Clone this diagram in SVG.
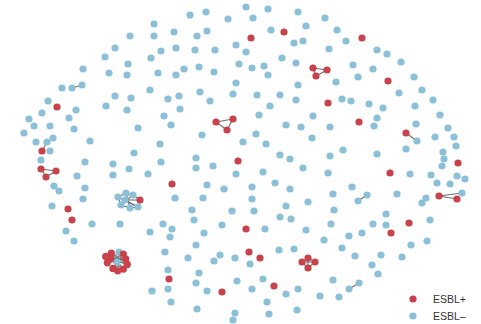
<svg xmlns="http://www.w3.org/2000/svg" width="481" height="324" viewBox="0 0 481 324">
<style>
.b{fill:#8cc0d9}
.r{fill:#c9424b}
circle{r:3.6px}
.e line{stroke:#6f6f6f;stroke-width:1.1}
text{font-family:"Liberation Sans",Arial,sans-serif;font-size:10.5px;fill:#333}
</style>
<rect width="481" height="324" fill="#fff"/>
<g id="connectors" class="e">
<line x1="72" y1="88" x2="82" y2="85"/>
<line x1="313" y1="68" x2="327" y2="70"/><line x1="327" y1="70" x2="316" y2="76"/><line x1="316" y1="76" x2="313" y2="68"/>
<line x1="42" y1="151" x2="47" y2="142"/>
<line x1="41" y1="169" x2="56" y2="171"/><line x1="56" y1="171" x2="46" y2="177"/><line x1="46" y1="177" x2="41" y2="169"/>
<line x1="216" y1="122" x2="233" y2="119"/><line x1="233" y1="119" x2="227" y2="130"/><line x1="227" y1="130" x2="216" y2="122"/>
<line x1="406" y1="133" x2="417" y2="141"/>
<line x1="358" y1="201" x2="367" y2="195"/>
<line x1="439" y1="196" x2="457" y2="199"/><line x1="439" y1="196" x2="462" y2="193"/>
<line x1="349" y1="289" x2="359" y2="283"/>
<line x1="118" y1="197" x2="126" y2="193"/><line x1="126" y1="193" x2="133" y2="195"/><line x1="133" y1="195" x2="140" y2="200"/><line x1="140" y1="200" x2="138" y2="207"/><line x1="138" y1="207" x2="130" y2="208"/><line x1="130" y1="208" x2="121" y2="205"/><line x1="121" y1="205" x2="118" y2="197"/><line x1="125" y1="200" x2="140" y2="200"/><line x1="125" y1="200" x2="138" y2="207"/><line x1="118" y1="197" x2="138" y2="207"/><line x1="126" y1="193" x2="130" y2="208"/><line x1="133" y1="195" x2="121" y2="205"/>
<line x1="302" y1="262" x2="315" y2="262"/><line x1="308" y1="258" x2="308" y2="268"/><line x1="302" y1="262" x2="308" y2="258"/><line x1="308" y1="258" x2="315" y2="262"/><line x1="315" y1="262" x2="308" y2="268"/><line x1="308" y1="268" x2="302" y2="262"/>
<line x1="105.7" y1="256.4" x2="127.3" y2="264.4"/><line x1="111.3" y1="253.2" x2="123.3" y2="269.2"/><line x1="119" y1="252" x2="117.7" y2="270.8"/><line x1="123.3" y1="254" x2="112.9" y2="268.4"/><line x1="125.7" y1="258.8" x2="107.3" y2="262.8"/><line x1="105.7" y1="256.4" x2="123.3" y2="254"/><line x1="111.3" y1="253.2" x2="127.3" y2="264.4"/><line x1="110.5" y1="258.8" x2="125.7" y2="258.8"/><line x1="112.9" y1="268.4" x2="123.3" y2="254"/><line x1="117.7" y1="270.8" x2="111.3" y2="253.2"/><line x1="123.3" y1="269.2" x2="105.7" y2="256.4"/><line x1="110.5" y1="258.8" x2="127.3" y2="264.4"/><line x1="107.3" y1="262.8" x2="123.3" y2="254"/>
</g>
<g id="nodes">
<g id="n1"><circle class="b" cx="154" cy="24"/></g>
<g id="n2"><circle class="b" cx="130" cy="36"/></g>
<g id="n3"><circle class="b" cx="154" cy="36"/></g>
<g id="n4"><circle class="b" cx="115" cy="48"/></g>
<g id="n5"><circle class="b" cx="105" cy="57"/></g>
<g id="n6"><circle class="b" cx="151" cy="58"/></g>
<g id="n7"><circle class="b" cx="128" cy="64"/></g>
<g id="n8"><circle class="b" cx="83" cy="69"/></g>
<g id="n9"><circle class="b" cx="109" cy="73"/></g>
<g id="n10"><circle class="b" cx="127" cy="75"/></g>
<g id="n11"><circle class="b" cx="158" cy="73"/></g>
<g id="n12"><circle class="b" cx="62" cy="88"/></g>
<g id="n13"><circle class="b" cx="72" cy="88"/></g>
<g id="n14"><circle class="b" cx="82" cy="85"/></g>
<g id="n15"><circle class="b" cx="150" cy="90"/></g>
<g id="n16"><circle class="b" cx="115" cy="96"/></g>
<g id="n17"><circle class="b" cx="131" cy="98"/></g>
<g id="n18"><circle class="b" cx="48" cy="101"/></g>
<g id="n19"><circle class="b" cx="106" cy="106"/></g>
<g id="n20"><circle class="b" cx="76" cy="110"/></g>
<g id="n21"><circle class="b" cx="127" cy="110"/></g>
<g id="n22"><circle class="r" cx="57" cy="107"/></g>
<g id="n23"><circle class="b" cx="246" cy="7"/></g>
<g id="n24"><circle class="b" cx="268" cy="9"/></g>
<g id="n25"><circle class="b" cx="190" cy="15"/></g>
<g id="n26"><circle class="b" cx="206" cy="12"/></g>
<g id="n27"><circle class="b" cx="228" cy="19"/></g>
<g id="n28"><circle class="b" cx="253" cy="18"/></g>
<g id="n29"><circle class="b" cx="298" cy="12"/></g>
<g id="n30"><circle class="b" cx="306" cy="26"/></g>
<g id="n31"><circle class="b" cx="174" cy="32"/></g>
<g id="n32"><circle class="b" cx="197" cy="36"/></g>
<g id="n33"><circle class="b" cx="207" cy="31"/></g>
<g id="n34"><circle class="b" cx="271" cy="30"/></g>
<g id="n35"><circle class="b" cx="294" cy="43"/></g>
<g id="n36"><circle class="b" cx="303" cy="41"/></g>
<g id="n37"><circle class="b" cx="236" cy="45"/></g>
<g id="n38"><circle class="b" cx="246" cy="52"/></g>
<g id="n39"><circle class="b" cx="161" cy="51"/></g>
<g id="n40"><circle class="b" cx="176" cy="48"/></g>
<g id="n41"><circle class="b" cx="195" cy="50"/></g>
<g id="n42"><circle class="b" cx="215" cy="50"/></g>
<g id="n43"><circle class="b" cx="282" cy="58"/></g>
<g id="n44"><circle class="b" cx="296" cy="63"/></g>
<g id="n45"><circle class="b" cx="239" cy="64"/></g>
<g id="n46"><circle class="b" cx="252" cy="68"/></g>
<g id="n47"><circle class="b" cx="264" cy="66"/></g>
<g id="n48"><circle class="b" cx="268" cy="75"/></g>
<g id="n49"><circle class="b" cx="184" cy="69"/></g>
<g id="n50"><circle class="b" cx="199" cy="67"/></g>
<g id="n51"><circle class="b" cx="214" cy="72"/></g>
<g id="n52"><circle class="b" cx="176" cy="75"/></g>
<g id="n53"><circle class="b" cx="236" cy="83"/></g>
<g id="n54"><circle class="b" cx="298" cy="85"/></g>
<g id="n55"><circle class="b" cx="200" cy="92"/></g>
<g id="n56"><circle class="b" cx="233" cy="94"/></g>
<g id="n57"><circle class="b" cx="257" cy="95"/></g>
<g id="n58"><circle class="b" cx="280" cy="95"/></g>
<g id="n59"><circle class="b" cx="168" cy="99"/></g>
<g id="n60"><circle class="b" cx="179" cy="96"/></g>
<g id="n61"><circle class="b" cx="210" cy="101"/></g>
<g id="n62"><circle class="b" cx="296" cy="100"/></g>
<g id="n63"><circle class="b" cx="270" cy="106"/></g>
<g id="n64"><circle class="b" cx="180" cy="109"/></g>
<g id="n65"><circle class="r" cx="251" cy="38"/></g>
<g id="n66"><circle class="r" cx="284" cy="32"/></g>
<g id="n67"><circle class="r" cx="313" cy="68"/></g>
<g id="n68"><circle class="r" cx="316" cy="76"/></g>
<g id="n69"><circle class="b" cx="325" cy="18"/></g>
<g id="n70"><circle class="b" cx="337" cy="30"/></g>
<g id="n71"><circle class="b" cx="346" cy="41"/></g>
<g id="n72"><circle class="b" cx="329" cy="49"/></g>
<g id="n73"><circle class="b" cx="377" cy="50"/></g>
<g id="n74"><circle class="b" cx="387" cy="54"/></g>
<g id="n75"><circle class="b" cx="401" cy="62"/></g>
<g id="n76"><circle class="b" cx="353" cy="65"/></g>
<g id="n77"><circle class="b" cx="373" cy="69"/></g>
<g id="n78"><circle class="b" cx="336" cy="82"/></g>
<g id="n79"><circle class="b" cx="358" cy="77"/></g>
<g id="n80"><circle class="b" cx="414" cy="77"/></g>
<g id="n81"><circle class="b" cx="422" cy="90"/></g>
<g id="n82"><circle class="b" cx="399" cy="93"/></g>
<g id="n83"><circle class="b" cx="433" cy="100"/></g>
<g id="n84"><circle class="b" cx="342" cy="99"/></g>
<g id="n85"><circle class="b" cx="351" cy="101"/></g>
<g id="n86"><circle class="b" cx="369" cy="104"/></g>
<g id="n87"><circle class="b" cx="383" cy="108"/></g>
<g id="n88"><circle class="b" cx="415" cy="106"/></g>
<g id="n89"><circle class="r" cx="362" cy="38"/></g>
<g id="n90"><circle class="r" cx="327" cy="70"/></g>
<g id="n91"><circle class="r" cx="388" cy="81"/></g>
<g id="n92"><circle class="r" cx="328" cy="103"/></g>
<g id="n93"><circle class="b" cx="42" cy="113"/></g>
<g id="n94"><circle class="b" cx="29" cy="119"/></g>
<g id="n95"><circle class="b" cx="34" cy="126"/></g>
<g id="n96"><circle class="b" cx="50" cy="126"/></g>
<g id="n97"><circle class="b" cx="69" cy="118"/></g>
<g id="n98"><circle class="b" cx="74" cy="129"/></g>
<g id="n99"><circle class="b" cx="24" cy="133"/></g>
<g id="n100"><circle class="b" cx="36" cy="142"/></g>
<g id="n101"><circle class="b" cx="47" cy="142"/></g>
<g id="n102"><circle class="b" cx="53" cy="138"/></g>
<g id="n103"><circle class="b" cx="90" cy="141"/></g>
<g id="n104"><circle class="b" cx="138" cy="128"/></g>
<g id="n105"><circle class="b" cx="50" cy="151"/></g>
<g id="n106"><circle class="b" cx="41" cy="160"/></g>
<g id="n107"><circle class="b" cx="134" cy="153"/></g>
<g id="n108"><circle class="b" cx="160" cy="144"/></g>
<g id="n109"><circle class="b" cx="85" cy="162"/></g>
<g id="n110"><circle class="b" cx="113" cy="164"/></g>
<g id="n111"><circle class="b" cx="77" cy="176"/></g>
<g id="n112"><circle class="b" cx="113" cy="175"/></g>
<g id="n113"><circle class="b" cx="129" cy="169"/></g>
<g id="n114"><circle class="b" cx="148" cy="174"/></g>
<g id="n115"><circle class="b" cx="161" cy="162"/></g>
<g id="n116"><circle class="b" cx="54" cy="186"/></g>
<g id="n117"><circle class="b" cx="59" cy="191"/></g>
<g id="n118"><circle class="b" cx="85" cy="188"/></g>
<g id="n119"><circle class="b" cx="83" cy="199"/></g>
<g id="n120"><circle class="b" cx="52" cy="206"/></g>
<g id="n121"><circle class="r" cx="42" cy="151"/></g>
<g id="n122"><circle class="r" cx="41" cy="169"/></g>
<g id="n123"><circle class="r" cx="56" cy="171"/></g>
<g id="n124"><circle class="r" cx="46" cy="177"/></g>
<g id="n125"><circle class="r" cx="68" cy="209"/></g>
<g id="n126"><circle class="r" cx="72" cy="220"/></g>
<g id="n127"><circle class="b" cx="164" cy="116"/></g>
<g id="n128"><circle class="b" cx="171" cy="125"/></g>
<g id="n129"><circle class="b" cx="202" cy="135"/></g>
<g id="n130"><circle class="b" cx="259" cy="115"/></g>
<g id="n131"><circle class="b" cx="256" cy="134"/></g>
<g id="n132"><circle class="b" cx="243" cy="142"/></g>
<g id="n133"><circle class="b" cx="266" cy="144"/></g>
<g id="n134"><circle class="b" cx="286" cy="125"/></g>
<g id="n135"><circle class="b" cx="301" cy="127"/></g>
<g id="n136"><circle class="b" cx="313" cy="116"/></g>
<g id="n137"><circle class="b" cx="312" cy="138"/></g>
<g id="n138"><circle class="b" cx="196" cy="158"/></g>
<g id="n139"><circle class="b" cx="196" cy="168"/></g>
<g id="n140"><circle class="b" cx="213" cy="166"/></g>
<g id="n141"><circle class="b" cx="236" cy="174"/></g>
<g id="n142"><circle class="b" cx="263" cy="172"/></g>
<g id="n143"><circle class="b" cx="280" cy="155"/></g>
<g id="n144"><circle class="b" cx="290" cy="159"/></g>
<g id="n145"><circle class="b" cx="303" cy="168"/></g>
<g id="n146"><circle class="b" cx="207" cy="185"/></g>
<g id="n147"><circle class="b" cx="224" cy="189"/></g>
<g id="n148"><circle class="b" cx="252" cy="187"/></g>
<g id="n149"><circle class="b" cx="275" cy="183"/></g>
<g id="n150"><circle class="b" cx="290" cy="189"/></g>
<g id="n151"><circle class="b" cx="175" cy="198"/></g>
<g id="n152"><circle class="b" cx="203" cy="198"/></g>
<g id="n153"><circle class="b" cx="252" cy="199"/></g>
<g id="n154"><circle class="b" cx="308" cy="202"/></g>
<g id="n155"><circle class="b" cx="192" cy="210"/></g>
<g id="n156"><circle class="b" cx="232" cy="211"/></g>
<g id="n157"><circle class="b" cx="254" cy="211"/></g>
<g id="n158"><circle class="b" cx="286" cy="206"/></g>
<g id="n159"><circle class="b" cx="280" cy="217"/></g>
<g id="n160"><circle class="b" cx="291" cy="219"/></g>
<g id="n161"><circle class="b" cx="194" cy="220"/></g>
<g id="n162"><circle class="r" cx="216" cy="122"/></g>
<g id="n163"><circle class="r" cx="233" cy="119"/></g>
<g id="n164"><circle class="r" cx="227" cy="130"/></g>
<g id="n165"><circle class="r" cx="238" cy="161"/></g>
<g id="n166"><circle class="r" cx="172" cy="184"/></g>
<g id="n167"><circle class="b" cx="330" cy="127"/></g>
<g id="n168"><circle class="b" cx="377" cy="118"/></g>
<g id="n169"><circle class="b" cx="374" cy="126"/></g>
<g id="n170"><circle class="b" cx="416" cy="124"/></g>
<g id="n171"><circle class="b" cx="440" cy="115"/></g>
<g id="n172"><circle class="b" cx="417" cy="141"/></g>
<g id="n173"><circle class="b" cx="435" cy="137"/></g>
<g id="n174"><circle class="b" cx="448" cy="128"/></g>
<g id="n175"><circle class="b" cx="454" cy="137"/></g>
<g id="n176"><circle class="b" cx="456" cy="146"/></g>
<g id="n177"><circle class="b" cx="443" cy="152"/></g>
<g id="n178"><circle class="b" cx="444" cy="159"/></g>
<g id="n179"><circle class="b" cx="442" cy="166"/></g>
<g id="n180"><circle class="b" cx="330" cy="156"/></g>
<g id="n181"><circle class="b" cx="343" cy="150"/></g>
<g id="n182"><circle class="b" cx="377" cy="154"/></g>
<g id="n183"><circle class="b" cx="406" cy="149"/></g>
<g id="n184"><circle class="b" cx="328" cy="173"/></g>
<g id="n185"><circle class="b" cx="410" cy="174"/></g>
<g id="n186"><circle class="b" cx="431" cy="175"/></g>
<g id="n187"><circle class="b" cx="437" cy="183"/></g>
<g id="n188"><circle class="b" cx="450" cy="184"/></g>
<g id="n189"><circle class="b" cx="457" cy="176"/></g>
<g id="n190"><circle class="b" cx="465" cy="179"/></g>
<g id="n191"><circle class="b" cx="352" cy="187"/></g>
<g id="n192"><circle class="b" cx="333" cy="194"/></g>
<g id="n193"><circle class="b" cx="358" cy="201"/></g>
<g id="n194"><circle class="b" cx="367" cy="195"/></g>
<g id="n195"><circle class="b" cx="397" cy="194"/></g>
<g id="n196"><circle class="b" cx="462" cy="193"/></g>
<g id="n197"><circle class="b" cx="426" cy="198"/></g>
<g id="n198"><circle class="b" cx="422" cy="203"/></g>
<g id="n199"><circle class="b" cx="334" cy="210"/></g>
<g id="n200"><circle class="b" cx="386" cy="214"/></g>
<g id="n201"><circle class="b" cx="430" cy="220"/></g>
<g id="n202"><circle class="r" cx="359" cy="122"/></g>
<g id="n203"><circle class="r" cx="406" cy="133"/></g>
<g id="n204"><circle class="r" cx="458" cy="163"/></g>
<g id="n205"><circle class="r" cx="390" cy="173"/></g>
<g id="n206"><circle class="r" cx="439" cy="196"/></g>
<g id="n207"><circle class="r" cx="457" cy="199"/></g>
<g id="n208"><circle class="b" cx="92" cy="224"/></g>
<g id="n209"><circle class="b" cx="120" cy="224"/></g>
<g id="n210"><circle class="b" cx="66" cy="231"/></g>
<g id="n211"><circle class="b" cx="74" cy="241"/></g>
<g id="n212"><circle class="b" cx="150" cy="232"/></g>
<g id="n213"><circle class="b" cx="152" cy="291"/></g>
<g id="n214"><circle class="b" cx="163" cy="224"/></g>
<g id="n215"><circle class="b" cx="172" cy="229"/></g>
<g id="n216"><circle class="b" cx="222" cy="225"/></g>
<g id="n217"><circle class="b" cx="170" cy="237"/></g>
<g id="n218"><circle class="b" cx="204" cy="233"/></g>
<g id="n219"><circle class="b" cx="265" cy="229"/></g>
<g id="n220"><circle class="b" cx="306" cy="230"/></g>
<g id="n221"><circle class="b" cx="196" cy="245"/></g>
<g id="n222"><circle class="b" cx="165" cy="252"/></g>
<g id="n223"><circle class="b" cx="188" cy="258"/></g>
<g id="n224"><circle class="b" cx="220" cy="255"/></g>
<g id="n225"><circle class="b" cx="214" cy="261"/></g>
<g id="n226"><circle class="b" cx="235" cy="258"/></g>
<g id="n227"><circle class="b" cx="250" cy="264"/></g>
<g id="n228"><circle class="b" cx="279" cy="250"/></g>
<g id="n229"><circle class="b" cx="294" cy="249"/></g>
<g id="n230"><circle class="b" cx="168" cy="270"/></g>
<g id="n231"><circle class="b" cx="199" cy="273"/></g>
<g id="n232"><circle class="b" cx="196" cy="283"/></g>
<g id="n233"><circle class="b" cx="237" cy="281"/></g>
<g id="n234"><circle class="b" cx="263" cy="279"/></g>
<g id="n235"><circle class="b" cx="168" cy="289"/></g>
<g id="n236"><circle class="b" cx="207" cy="291"/></g>
<g id="n237"><circle class="b" cx="252" cy="289"/></g>
<g id="n238"><circle class="b" cx="286" cy="294"/></g>
<g id="n239"><circle class="b" cx="298" cy="289"/></g>
<g id="n240"><circle class="b" cx="171" cy="302"/></g>
<g id="n241"><circle class="b" cx="267" cy="302"/></g>
<g id="n242"><circle class="b" cx="197" cy="309"/></g>
<g id="n243"><circle class="b" cx="235" cy="313"/></g>
<g id="n244"><circle class="b" cx="233" cy="320"/></g>
<g id="n245"><circle class="b" cx="269" cy="314"/></g>
<g id="n246"><circle class="b" cx="297" cy="310"/></g>
<g id="n247"><circle class="b" cx="320" cy="296"/></g>
<g id="n248"><circle class="r" cx="246" cy="229"/></g>
<g id="n249"><circle class="r" cx="249" cy="252"/></g>
<g id="n250"><circle class="r" cx="260" cy="258"/></g>
<g id="n251"><circle class="r" cx="169" cy="279"/></g>
<g id="n252"><circle class="r" cx="222" cy="292"/></g>
<g id="n253"><circle class="r" cx="274" cy="286"/></g>
<g id="n254"><circle class="b" cx="331" cy="224"/></g>
<g id="n255"><circle class="b" cx="373" cy="224"/></g>
<g id="n256"><circle class="b" cx="386" cy="225"/></g>
<g id="n257"><circle class="b" cx="324" cy="240"/></g>
<g id="n258"><circle class="b" cx="349" cy="236"/></g>
<g id="n259"><circle class="b" cx="362" cy="233"/></g>
<g id="n260"><circle class="b" cx="342" cy="248"/></g>
<g id="n261"><circle class="b" cx="355" cy="256"/></g>
<g id="n262"><circle class="b" cx="381" cy="255"/></g>
<g id="n263"><circle class="b" cx="402" cy="257"/></g>
<g id="n264"><circle class="b" cx="411" cy="245"/></g>
<g id="n265"><circle class="b" cx="427" cy="241"/></g>
<g id="n266"><circle class="b" cx="372" cy="265"/></g>
<g id="n267"><circle class="b" cx="378" cy="274"/></g>
<g id="n268"><circle class="b" cx="333" cy="280"/></g>
<g id="n269"><circle class="b" cx="349" cy="289"/></g>
<g id="n270"><circle class="b" cx="359" cy="283"/></g>
<g id="n271"><circle class="b" cx="339" cy="297"/></g>
<g id="n272"><circle class="r" cx="409" cy="223"/></g>
<g id="n273"><circle class="r" cx="391" cy="233"/></g>
<g id="n274"><circle class="b" cx="118" cy="197"/></g>
<g id="n275"><circle class="b" cx="126" cy="193"/></g>
<g id="n276"><circle class="b" cx="133" cy="195"/></g>
<g id="n277"><circle class="r" cx="140" cy="200"/></g>
<g id="n278"><circle class="b" cx="138" cy="207"/></g>
<g id="n279"><circle class="b" cx="130" cy="208"/></g>
<g id="n280"><circle class="b" cx="121" cy="205"/></g>
<g id="n281"><circle class="b" cx="125" cy="200"/></g>
<g id="n282"><circle class="r" cx="302" cy="262"/></g>
<g id="n283"><circle class="r" cx="308" cy="258"/></g>
<g id="n284"><circle class="r" cx="315" cy="262"/></g>
<g id="n285"><circle class="r" cx="308" cy="268"/></g>
<g id="n297"><circle class="b" cx="117" cy="262"/></g>
<g id="n286"><circle class="b" cx="119" cy="252"/></g>
<g id="n287"><circle class="r" cx="105.7" cy="256.4"/></g>
<g id="n288"><circle class="r" cx="111.3" cy="253.2"/></g>
<g id="n289"><circle class="r" cx="123.3" cy="254"/></g>
<g id="n290"><circle class="r" cx="125.7" cy="258.8"/></g>
<g id="n291"><circle class="r" cx="127.3" cy="264.4"/></g>
<g id="n292"><circle class="r" cx="123.3" cy="269.2"/></g>
<g id="n293"><circle class="r" cx="117.7" cy="270.8"/></g>
<g id="n294"><circle class="r" cx="112.9" cy="268.4"/></g>
<g id="n295"><circle class="r" cx="107.3" cy="262.8"/></g>
<g id="n296"><circle class="r" cx="110.5" cy="258.8"/></g>
</g>
<g id="legend">
<circle class="r" cx="413" cy="299"/>
<circle class="b" cx="413" cy="316"/>
<text x="433" y="303">ESBL+</text>
<text x="433" y="320">ESBL–</text>
</g>
</svg>
